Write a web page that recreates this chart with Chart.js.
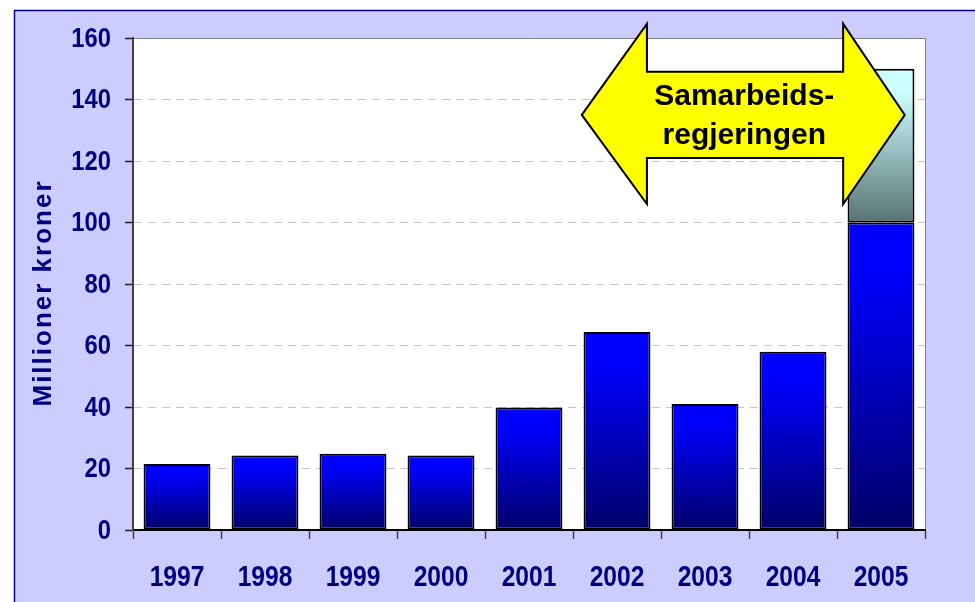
<!DOCTYPE html>
<html>
<head>
<meta charset="utf-8">
<script src="https://cdn.jsdelivr.net/npm/chart.js@4.4.1/dist/chart.umd.min.js"></script>
<style>
  html, body { margin: 0; padding: 0; background: #ffffff; }
  #wrap { width: 975px; height: 602px; position: relative; }
</style>
</head>
<body>
<div id="wrap"><canvas id="chart" width="975" height="602"></canvas></div>
<script>
//* Datos
const years = ["1997", "1998", "1999", "2000", "2001", "2002", "2003", "2004", "2005"];
const bevilgning = [21.5, 24.2, 24.8, 24.2, 39.8, 64.4, 41.0, 58.0, 100];
const tillegg = [null, null, null, null, null, null, null, null, 50];
const yTicks = [0, 20, 40, 60, 80, 100, 120, 140, 160];
const axisTitle = "Millioner kroner";
const arrowText = ["Samarbeids-", "regjeringen"];

//* Pil (i dataverdier: kategori-indeks og y-verdi)
const arrowX = [4.6, 5.34, 7.57, 8.27]; // tupp, skaft, skaft, tupp
const arrowY = [106, 121, 135, 149, 164.6]; // hode bunn, skaft bunn, midt, skaft topp, hode topp

const navy = "#000080";
const sans = "'Liberation Sans', Arial, sans-serif";
//* Smal skrift finnes ikke, så vi klemmer teksten horisontalt
const squeeze = 0.82;

//* Gradient for hver søyle
function barGradient(context, top, bottom) {
	const chart = context.chart;
	const area = chart.chartArea;
	if (!area || context.type !== "data") return top;
	const y = chart.scales.y;
	const ds = chart.data.datasets;
	let base = 0;
	for (let k = 0; k < context.datasetIndex; k++) {
		base += ds[k].data[context.dataIndex] || 0;
	}
	const v = context.raw || 0;
	const y0 = y.getPixelForValue(base + v);
	const y1 = y.getPixelForValue(base);
	if (!(y1 > y0)) return top;
	const g = chart.ctx.createLinearGradient(0, y0, 0, y1);
	g.addColorStop(0, top);
	g.addColorStop(0.15, top);
	g.addColorStop(1, bottom);
	return g;
}

//* Bakgrunn og ramme
const bakgrunn = {
	id: "bakgrunn",
	beforeDraw(chart) {
		const ctx = chart.ctx;
		const a = chart.chartArea;
		ctx.save();
		ctx.fillStyle = "#ffffff";
		ctx.fillRect(0, 0, chart.width, chart.height);
		ctx.fillStyle = "#ccccff";
		ctx.fillRect(14, 10, chart.width - 14, chart.height - 10);
		ctx.strokeStyle = navy;
		ctx.lineWidth = 1.5;
		ctx.beginPath();
		ctx.moveTo(14.5, chart.height);
		ctx.lineTo(14.5, 10.5);
		ctx.lineTo(chart.width, 10.5);
		ctx.stroke();
		ctx.fillStyle = "#ffffff";
		ctx.fillRect(a.left, a.top, a.right - a.left, a.bottom - a.top);
		ctx.strokeStyle = "#808080";
		ctx.lineWidth = 1;
		ctx.beginPath();
		ctx.moveTo(a.left, a.top + 0.5);
		ctx.lineTo(a.right + 0.5, a.top + 0.5);
		ctx.lineTo(a.right + 0.5, a.bottom);
		ctx.stroke();
		//* Aksetittel
		ctx.translate(44, 293);
		ctx.rotate(-Math.PI / 2);
		ctx.fillStyle = navy;
		ctx.font = "bold 26px " + sans;
		ctx.letterSpacing = "2px";
		ctx.textAlign = "center";
		ctx.textBaseline = "middle";
		ctx.fillText(axisTitle, 0, 0);
		ctx.restore();
	},
};

//* Akseetiketter, tegnet fra skalaene
const etiketter = {
	id: "etiketter",
	afterDraw(chart) {
		const ctx = chart.ctx;
		const sx = chart.scales.x;
		const sy = chart.scales.y;
		ctx.save();
		ctx.fillStyle = navy;
		ctx.textBaseline = "middle";
		ctx.textAlign = "center";
		ctx.font = "bold 30px " + sans;
		sx.ticks.forEach((t, i) => {
			ctx.save();
			ctx.translate(sx.getPixelForTick(i), 578);
			ctx.scale(squeeze, 1);
			ctx.fillText(sx.getLabelForValue(t.value), 0, 0);
			ctx.restore();
		});
		ctx.textAlign = "right";
		ctx.font = "bold 28px " + sans;
		sy.ticks.forEach((t) => {
			ctx.save();
			ctx.translate(111, sy.getPixelForValue(t.value) + 1);
			ctx.scale(squeeze + 0.03, 1);
			ctx.fillText(String(t.value), 0, 0);
			ctx.restore();
		});
		ctx.restore();
	},
};

//* Dobbeltpil med tekst
const pil = {
	id: "pil",
	afterDatasetsDraw(chart) {
		const ctx = chart.ctx;
		const sx = chart.scales.x;
		const sy = chart.scales.y;
		const X = arrowX.map((v) => sx.getPixelForValue(v));
		const Y = arrowY.map((v) => sy.getPixelForValue(v));
		ctx.save();
		ctx.beginPath();
		ctx.moveTo(X[0], Y[2]);
		ctx.lineTo(X[1], Y[4]);
		ctx.lineTo(X[1], Y[3]);
		ctx.lineTo(X[2], Y[3]);
		ctx.lineTo(X[2], Y[4]);
		ctx.lineTo(X[3], Y[2]);
		ctx.lineTo(X[2], Y[0]);
		ctx.lineTo(X[2], Y[1]);
		ctx.lineTo(X[1], Y[1]);
		ctx.lineTo(X[1], Y[0]);
		ctx.closePath();
		ctx.fillStyle = "#ffff00";
		ctx.fill();
		ctx.lineWidth = 2;
		ctx.lineJoin = "miter";
		ctx.strokeStyle = "#000000";
		ctx.stroke();
		ctx.fillStyle = "#000000";
		ctx.font = "bold 30px " + sans;
		ctx.textAlign = "center";
		ctx.textBaseline = "middle";
		const cx = (X[0] + X[3]) / 2 + 1;
		ctx.fillText(arrowText[0], cx, Y[2] - 18);
		ctx.fillText(arrowText[1], cx, Y[2] + 21);
		ctx.restore();
	},
};

const ctx = document.getElementById("chart").getContext("2d");

const chart = new Chart(ctx, {
	type: "bar",
	data: {
		labels: years,
		datasets: [
			{
				label: "Bevilgning",
				data: bevilgning,
				backgroundColor: (c) => barGradient(c, "#0000ff", "#000068"),
				borderColor: "#000000",
				borderWidth: 2,
				borderSkipped: false,
				barPercentage: 0.76,
				categoryPercentage: 1,
			},
			{
				label: "Tillegg",
				data: tillegg,
				backgroundColor: (c) => barGradient(c, "#ccffff", "#587272"),
				borderColor: "#000000",
				borderWidth: 2,
				borderSkipped: false,
				barPercentage: 0.76,
				categoryPercentage: 1,
			},
		],
	},
	options: {
		responsive: false,
		animation: false,
		layout: { padding: { top: 38, right: 50, left: 0, bottom: 0 } },
		plugins: {
			legend: { display: false },
			tooltip: { enabled: false },
		},
		scales: {
			x: {
				stacked: true,
				grid: {
					offset: true,
					drawOnChartArea: false,
					drawTicks: true,
					tickLength: 9,
					tickColor: "#404040",
					tickWidth: 1.5,
				},
				border: { display: true, color: "#000000", width: 2 },
				ticks: { display: false },
				afterFit: (s) => { s.height = 72; },
			},
			y: {
				stacked: true,
				min: 0,
				max: 160,
				afterBuildTicks: (s) => { s.ticks = yTicks.map((v) => ({ value: v })); },
				grid: {
					color: (c) => (c.tick && (c.tick.value === 0 || c.tick.value === 160) ? "rgba(0,0,0,0)" : "#c8c8c8"),
					lineWidth: 1,
					drawTicks: true,
					tickLength: 8,
					tickColor: "#202020",
					tickWidth: 1.5,
				},
				border: { display: true, color: "#404040", width: 2, dash: [8, 6] },
				ticks: { display: false },
				afterFit: (s) => { s.width = 133; },
			},
		},
	},
	plugins: [bakgrunn, pil, etiketter],
});
</script>
</body>
</html>
